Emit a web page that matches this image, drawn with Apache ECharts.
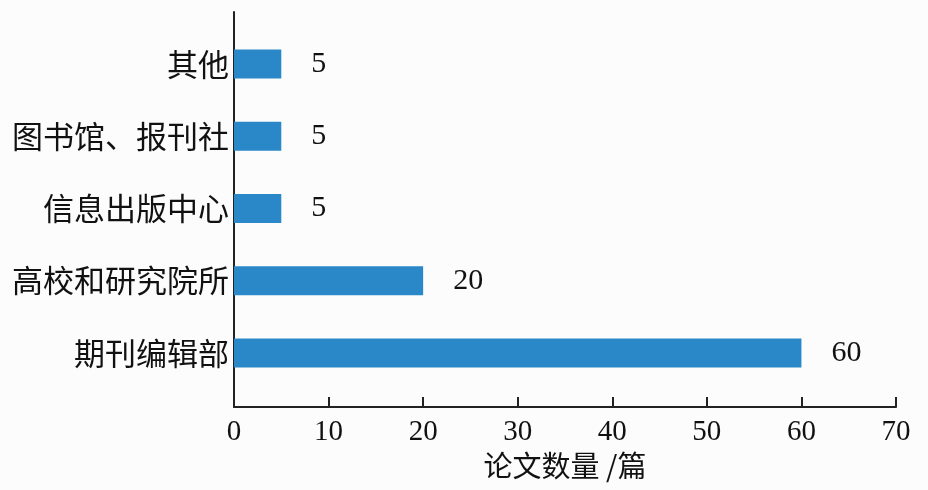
<!DOCTYPE html>
<html>
<head>
<meta charset="utf-8">
<script src="https://cdn.jsdelivr.net/npm/echarts@6/dist/echarts.min.js"></script>
<style>
html,body{margin:0;padding:0;background:#fcfcfc;}
#c{width:928px;height:490px;}
</style>
</head>
<body>
<div id="c"></div>
<script>
const categories = ['期刊编辑部', '高校和研究院所', '信息出版中心', '图书馆、报刊社', '其他'];
const values = [60, 20, 5, 5, 5];
const xTicks = { min: 0, max: 70, interval: 10 };
const xName = '论文数量 /篇';

const serif = '"Liberation Serif", "DejaVu Serif", serif';
const cjk = '"Noto Sans CJK SC", sans-serif';
const axisColor = '#222';

const chart = echarts.init(document.getElementById('c'));
chart.setOption({
  backgroundColor: '#fcfcfc',
  animation: false,
  grid: [
    { left: 234, right: 32, top: 12, bottom: 83 },
    { left: 234, right: 32, top: 28, bottom: 101 }
  ],
  xAxis: [
    {
      gridIndex: 0, type: 'value', min: xTicks.min, max: xTicks.max, interval: xTicks.interval,
      axisLine: { show: true, lineStyle: { color: axisColor, width: 2 } },
      axisTick: { show: true, inside: true, length: 10, lineStyle: { color: axisColor, width: 2 } },
      axisLabel: { fontFamily: serif, fontSize: 29, color: '#111', margin: 11 },
      splitLine: { show: false },
      name: xName, nameLocation: 'middle', nameGap: 44,
      nameTextStyle: { fontFamily: cjk, fontSize: 29, color: '#111' }
    },
    {
      gridIndex: 1, type: 'value', min: xTicks.min, max: xTicks.max, interval: xTicks.interval,
      show: false
    }
  ],
  yAxis: [
    {
      gridIndex: 0, type: 'value', min: 0, max: 1,
      axisLine: { show: true, lineStyle: { color: axisColor, width: 2 } },
      axisTick: { show: false }, axisLabel: { show: false }, splitLine: { show: false }
    },
    {
      gridIndex: 1, type: 'category', data: categories,
      axisLine: { show: false }, axisTick: { show: false },
      axisLabel: { fontFamily: cjk, fontSize: 31, color: '#111', margin: 5 }
    }
  ],
  series: [{
    type: 'bar', xAxisIndex: 1, yAxisIndex: 1, data: values,
    barWidth: 29,
    itemStyle: { color: '#2a88c8' },
    label: { show: true, position: 'right', distance: 30, fontFamily: serif, fontSize: 30, color: '#111' }
  }]
});
</script>
</body>
</html>
